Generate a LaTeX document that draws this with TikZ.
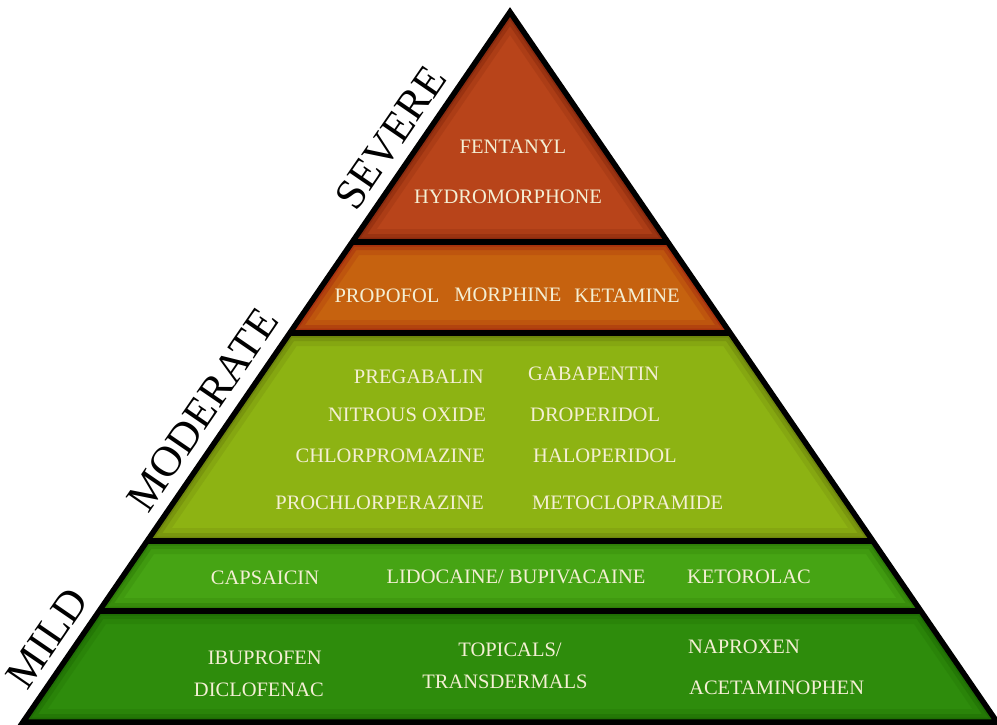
\documentclass[tikz,border=0pt]{standalone}
\usepackage{fontspec}
\setmainfont{Liberation Serif}
\begin{document}
\begin{tikzpicture}[x=1pt,y=-1pt,
  drug/.style={text=cream, font=\fontsize{20.5}{24}\selectfont, inner sep=0pt},
  level/.style={text=black, font=\fontsize{43}{48}\selectfont, inner sep=0pt, rotate=55.56, anchor=south},
  edge/.style={black, line width=5.5pt, line join=miter}]
\definecolor{cream}{HTML}{F4EFD4}
\definecolor{sevmain}{HTML}{B8441A}
\definecolor{sevrim}{HTML}{8A2A0E}
\definecolor{ormain}{HTML}{C6620F}
\definecolor{orrim}{HTML}{A8320E}
\definecolor{ygmain}{HTML}{8DB313}
\definecolor{ygrim}{HTML}{6E860C}
\definecolor{lgmain}{HTML}{46A414}
\definecolor{lgrim}{HTML}{2F7E08}
\definecolor{dgmain}{HTML}{2E8C0C}
\definecolor{dgrim}{HTML}{1F6E04}
\useasboundingbox (0,0) rectangle (997,724);
\fill[white] (0,0) rectangle (997,724);
% corner coordinates
\coordinate (apex) at (510,12);
\coordinate (l1) at (352.2,242); \coordinate (r1) at (667.8,242);
\coordinate (l2) at (289.8,333); \coordinate (r2) at (730.2,333);
\coordinate (l3) at (147.2,541); \coordinate (r3) at (872.8,541);
\coordinate (l4) at (99.1,611);  \coordinate (r4) at (920.9,611);
\coordinate (l5) at (23,722);    \coordinate (r5) at (997,722);
% soft shadow
\foreach \s/\o in {22/0.04,18/0.05,14/0.06,10/0.08,6/0.1,3/0.12}{
  \fill[black, opacity=\o, xshift=\s pt, yshift=-0.4*\s pt] (apex) -- (l5) -- (r5) -- cycle;}
% bands
\foreach \a/\b/\c/\d/\m/\r in {apex/apex/r1/l1/sevmain/sevrim, l1/r1/r2/l2/ormain/orrim, l2/r2/r3/l3/ygmain/ygrim, l3/r3/r4/l4/lgmain/lgrim, l4/r4/r5/l5/dgmain/dgrim}{
  \begin{scope}
    \clip (\a) -- (\b) -- (\c) -- (\d) -- cycle;
    \fill[\m] (\a) -- (\b) -- (\c) -- (\d) -- cycle;
    \draw[\r, line width=26pt, opacity=0.25] (\a) -- (\b) -- (\c) -- (\d) -- cycle;
    \draw[\r, line width=16pt, opacity=0.5] (\a) -- (\b) -- (\c) -- (\d) -- cycle;
    \draw[\r, line width=9pt] (\a) -- (\b) -- (\c) -- (\d) -- cycle;
  \end{scope}}
% outlines
\draw[edge] (apex) -- (l5) -- (r5) -- cycle;
\draw[edge] (l1) -- (r1);
\draw[edge] (l2) -- (r2);
\draw[edge] (l3) -- (r3);
\draw[edge] (l4) -- (r4);
% level labels
\node[level] (severe) at (402.7,146.0) {SEVERE};
\node[level] (moderate) at (214.8,418.0) {MODERATE};
\node[level] (mild) at (58.8,646.1) {MILD};
% severe band
\node[drug] (fent) at (513,147) {FENTANYL};
\node[drug] (hydro) at (508,197) {HYDROMORPHONE};
% orange band
\node[drug] (prop) at (387,296) {PROPOFOL};
\node[drug] (morph) at (508,295) {MORPHINE};
\node[drug] (ket) at (627,296) {KETAMINE};
% yellow-green band
\node[drug, anchor=east] (preg) at (484,377) {PREGABALIN};
\node[drug, anchor=east] (nitr) at (486,415) {NITROUS OXIDE};
\node[drug, anchor=east] (chlor) at (485,456) {CHLORPROMAZINE};
\node[drug, anchor=east] (prochl) at (484,503) {PROCHLORPERAZINE};
\node[drug, anchor=west] (gaba) at (528,374) {GABAPENTIN};
\node[drug, anchor=west] (drop) at (530,415) {DROPERIDOL};
\node[drug, anchor=west] (halo) at (533,456) {HALOPERIDOL};
\node[drug, anchor=west] (meto) at (532,503) {METOCLOPRAMIDE};
% light green band
\node[drug] (caps) at (265,578) {CAPSAICIN};
\node[drug] (lido) at (516,577) {LIDOCAINE/ BUPIVACAINE};
\node[drug] (keto) at (749,577) {KETOROLAC};
% dark green band
\node[drug, anchor=east] (ibu) at (322,658) {IBUPROFEN};
\node[drug, anchor=east] (diclo) at (324,690) {DICLOFENAC};
\node[drug] (topi) at (510,650) {TOPICALS/};
\node[drug] (trans) at (505,682) {TRANSDERMALS};
\node[drug, anchor=west] (napro) at (688,647) {NAPROXEN};
\node[drug, anchor=west] (acet) at (689,688) {ACETAMINOPHEN};
\end{tikzpicture}
\end{document}
